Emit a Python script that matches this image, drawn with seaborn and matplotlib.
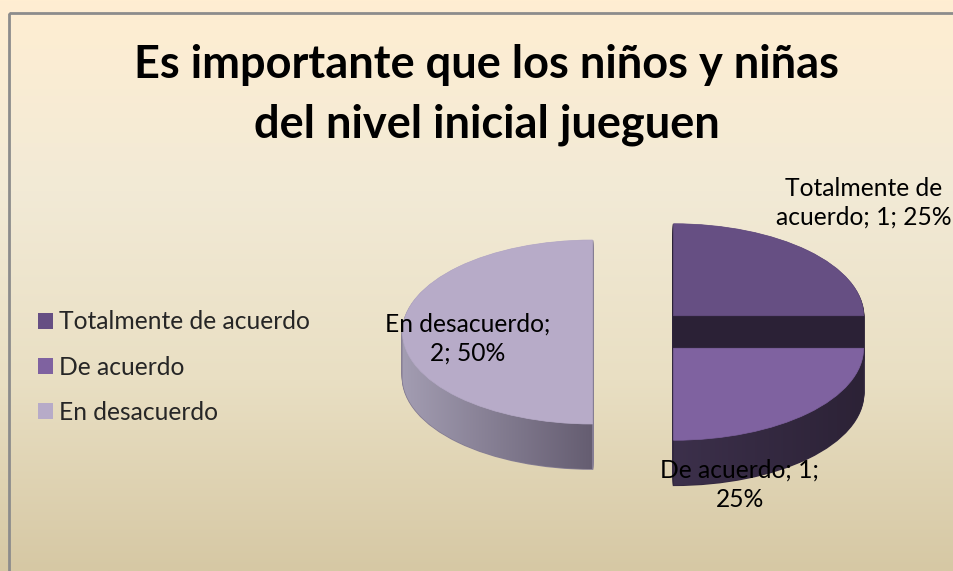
import textwrap
import numpy as np
import matplotlib
matplotlib.use("Agg")
import matplotlib.pyplot as plt
import seaborn as sns
from matplotlib.patches import Rectangle, Polygon
from matplotlib.colors import LinearSegmentedColormap, to_rgb

# ---- data ----
categories = ["Totalmente de acuerdo", "De acuerdo", "En desacuerdo"]
counts = [1, 1, 2]
percent_labels = ["25%", "25%", "50%"]
title = "Es importante que los niños y niñas\ndel nivel inicial jueguen"

# ---- style ----
top_colors = ["#664F83", "#7F62A0", "#B7ABC8"]
side_colors = ["#2B2136", "#33283F", "#857D93"]
side_grad = [("#2B2136", "#2B2136"), ("#3C304B", "#2C2236"), ("#A39DB2", "#655D71")]
sns.set_theme(style="white")
plt.rcParams["font.family"] = ["Lato", "DejaVu Sans"]

W, H = 954, 571
fig = plt.figure(figsize=(W / 100, H / 100), dpi=100)

# background (pixel coordinates)
bg = fig.add_axes([0, 0, 1, 1])
bg.set_xlim(0, W)
bg.set_ylim(H, 0)
bg.axis("off")
grad = LinearSegmentedColormap.from_list("bg", ["#FFEED2", "#F2EAD6", "#E9DFC3", "#D6C8A4"])
bg.imshow(np.linspace(0, 1, 256).reshape(-1, 1), cmap=grad, aspect="auto",
          extent=(0, W, H, 0), zorder=0)
bg.add_patch(Rectangle((9, 13), W + 20, H + 20, fill=False, edgecolor="#8C8C8C",
                       linewidth=2, zorder=1))

# pie axes
cx, cy = 640, 332       # pie centre in pixels (from top)
rx, ry = 190, 92        # ellipse radii in pixels
depth = 45              # thickness in pixels
d = depth / ry
ax = fig.add_axes([0, 0, 1, 1])
ax.patch.set_alpha(0)
explode = [0.25] * len(counts)
n_layers = 45
for k in range(n_layers, 0, -1):
    off = -k * d / n_layers
    ws, _ = ax.pie(counts, explode=explode, startangle=90, counterclock=False,
                   colors=side_colors, center=(0, off), radius=1,
                   wedgeprops=dict(linewidth=1.2))
    for w, c in zip(ws, side_colors):
        w.set_edgecolor(c)
        w.set_zorder(1)

# shaded outer side of each slice (front part of the rim)
fracs = np.array(counts, dtype=float) / np.sum(counts)
cum = np.concatenate([[0], np.cumsum(fracs)])
for i in range(len(counts)):
    t1 = 90 - 360 * cum[i + 1]
    t2 = 90 - 360 * cum[i]
    mid = np.deg2rad((t1 + t2) / 2)
    ox, oy = explode[i] * np.cos(mid), explode[i] * np.sin(mid)
    a = np.mod(np.array([t1, t2]), 360)
    lo, hi = (t1 % 360), (t1 % 360) + (t2 - t1)
    lo2, hi2 = max(lo, 180), min(hi, 360)
    if hi2 - lo2 <= 0:
        continue
    tt = np.deg2rad(np.linspace(lo2, hi2, 120))
    top = np.column_stack([ox + np.cos(tt), oy + np.sin(tt)])
    bot = np.column_stack([ox + np.cos(tt[::-1]), oy + np.sin(tt[::-1]) - d])
    poly = Polygon(np.vstack([top, bot]), closed=True, facecolor="none",
                   edgecolor="none", transform=ax.transData)
    ax.add_patch(poly)
    c0, c1 = side_grad[i]
    cmap = LinearSegmentedColormap.from_list(f"s{i}", [c0, c1])
    x0, x1 = top[:, 0].min(), top[:, 0].max()
    y0, y1 = bot[:, 1].min() - 0.05, top[:, 1].max() + 0.05
    im = ax.imshow(np.linspace(0, 1, 256).reshape(1, -1), cmap=cmap, aspect="auto",
                   extent=(x0, x1, y0, y1), zorder=2, interpolation="bilinear")
    im.set_clip_path(poly)

wedges, _ = ax.pie(counts, explode=explode, startangle=90, counterclock=False,
                   colors=top_colors, radius=1, wedgeprops=dict(linewidth=0.5))
for w, c in zip(wedges, top_colors):
    w.set_edgecolor(c)
    w.set_zorder(3)
ax.set_aspect("auto")
ax.set_xlim((0 - cx) / rx, (W - cx) / rx)
ax.set_ylim((cy - H) / ry, cy / ry)
ax.axis("off")

# overlay for text
ov = fig.add_axes([0, 0, 1, 1])
ov.patch.set_alpha(0)
ov.set_xlim(0, W)
ov.set_ylim(H, 0)
ov.axis("off")

# data labels
label_pos = [(864, 203), (740, 485), (468, 339)]
for cat, n, pct, (lx, ly) in zip(categories, counts, percent_labels, label_pos):
    txt = textwrap.fill(f"{cat}; {n}; {pct}", width=16)
    ov.text(lx, ly, txt, ha="center", va="center", fontsize=17.7,
            linespacing=1.32, color="#000000", zorder=5)

# title
ov.text(487, 95, title, ha="center", va="center", fontsize=32.5,
        fontweight="bold", linespacing=1.5, color="#000000", zorder=5)

# legend
handles = [Rectangle((0, 0), 1, 1, facecolor=c, edgecolor="none") for c in top_colors]
leg = ov.legend(handles, categories, loc="center left",
                bbox_to_anchor=(28 / W, 1 - 367 / H), frameon=False,
                fontsize=17.7, handlelength=0.62, handleheight=0.62,
                handletextpad=0.25, labelspacing=0.9, borderaxespad=0)

fig.savefig("out.png", dpi=100)
